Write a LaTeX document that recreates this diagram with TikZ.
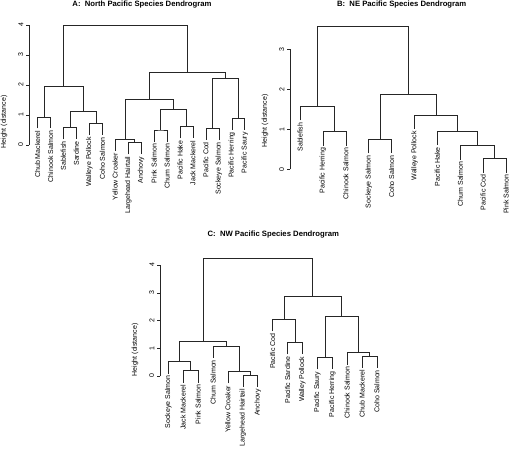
\documentclass[tikz,border=0pt]{standalone}
\usepackage{fontspec}
\setmainfont{Liberation Sans}
\usepackage{tikz}
\usetikzlibrary{positioning}
\usepackage{xcolor}
\definecolor{Ink}{HTML}{262626}

\begin{document}
\begin{tikzpicture}[x=1pt,y=1pt,
    dend/.style={draw=Ink,line width=0.5pt},
    axln/.style={draw=Ink,line width=0.5pt},
    leaflab/.style={rotate=90,anchor=east,inner sep=2pt,font=\fontsize{7}{8}\selectfont},
    ticklab/.style={rotate=90,anchor=south,inner sep=2pt,font=\fontsize{7}{8}\selectfont},
    ylab/.style={rotate=90,inner sep=0pt,font=\fontsize{7}{8}\selectfont},
    ttl/.style={inner sep=0pt,font=\fontsize{7.7}{9}\selectfont\bfseries}]
  \useasboundingbox (0,0) rectangle (510,-449);

  % titles and axis names
  \node[ttl] (ttlA) at (142,-5) {A:\ \ North Pacific Species Dendrogram};
  \node[ttl] (ttlB) at (401.7,-5) {B:\ \ NE Pacific Species Dendrogram};
  \node[ttl] (ttlC) at (273.3,-235) {C:\ \ NW Pacific Species Dendrogram};
  \node[ylab] (ylA) at (4,-122) {Height (distance)};
  \node[ylab] (ylB) at (265,-121) {Height (distance)};
  \node[ylab] (ylC) at (135,-350) {Height (distance)};

  % A: North Pacific
  \begin{scope}[yshift=-145pt,y=30pt]
    \draw[axln] (29,0) -- (29,4);
    \foreach \t in {0,...,4}
      \draw[axln] (29,\t) -- ++(-3.5pt,0) node[ticklab] (ta\t) {\t};
    \foreach \x/\h/\lab [count=\i] in {37.5/0.55/Chub Mackerel,50.5/0.55/Chinook Salmon,
        63.4/0.19/Sablefish,76.4/0.19/Sardine,89.3/0.33/Walleye Pollock,102.3/0.33/Coho Salmon,
        115.2/-0.20/Yellow Croaker,128.2/-0.31/Largehead Hairtail,141.1/-0.31/Anchovy,
        154.1/0.11/Pink Salmon,167.0/0.11/Chum Salmon,180.0/0.22/Pacific Hake,
        192.9/0.22/Jack Mackerel,205.9/0.17/Pacific Cod,218.8/0.17/Sockeye Salmon,
        231.8/0.50/Pacific Herring,244.7/0.50/Pacific Saury}
      \node[leaflab] (a\i) at (\x,\h) {\lab};
    \coordinate (ma1) at (44.0,0.94);
    \coordinate (ma2) at (69.9,0.58);
    \coordinate (ma3) at (95.8,0.72);
    \coordinate (ma4) at (82.85,1.11);
    \coordinate (ma5) at (63.4,1.97);
    \coordinate (ma6) at (134.65,0.08);
    \coordinate (ma7) at (124.9,0.19);
    \coordinate (ma8) at (160.55,0.50);
    \coordinate (ma9) at (186.45,0.61);
    \coordinate (ma10) at (173.5,1.19);
    \coordinate (ma11) at (149.2,1.52);
    \coordinate (ma12) at (212.35,0.56);
    \coordinate (ma13) at (238.25,0.89);
    \coordinate (ma14) at (225.3,2.24);
    \coordinate (ma15) at (187.25,2.44);
    \coordinate (ma16) at (125.3,3.98);
    \foreach \l/\m/\r in {a1.east/ma1/a2.east,a3.east/ma2/a4.east,a5.east/ma3/a6.east,
        ma2/ma4/ma3,ma1/ma5/ma4,a8.east/ma6/a9.east,a7.east/ma7/ma6,
        a10.east/ma8/a11.east,a12.east/ma9/a13.east,ma8/ma10/ma9,ma7/ma11/ma10,
        a14.east/ma12/a15.east,a16.east/ma13/a17.east,ma12/ma14/ma13,
        ma11/ma15/ma14,ma5/ma16/ma15}
      \draw[dend] (\l) |- (\m) -| (\r);
  \end{scope}

  % B: NE Pacific
  \begin{scope}[yshift=-169.3pt,y=40pt]
    \draw[axln] (290,0) -- (290,3);
    \foreach \t in {0,...,3}
      \draw[axln] (290,\t) -- ++(-3.5pt,0) node[ticklab] (tb\t) {\t};
    \foreach \x/\h/\lab [count=\i] in {300.0/1.22/Sablefish,322.9/0.59/Pacific Herring,
        345.8/0.59/Chinook Salmon,368.7/0.40/Sockeye Salmon,391.6/0.40/Coho Salmon,
        414.5/1.01/Walleye Pollock,437.4/0.61/Pacific Hake,460.3/0.24/Chum Salmon,
        483.2/-0.08/Pacific Cod,506.1/-0.08/Pink Salmon}
      \node[leaflab] (b\i) at (\x,\h) {\lab};
    \coordinate (mb1) at (334.35,0.94);
    \coordinate (mb2) at (317.2,1.57);
    \coordinate (mb3) at (380.15,0.75);
    \coordinate (mb4) at (494.65,0.27);
    \coordinate (mb5) at (477.5,0.59);
    \coordinate (mb6) at (457.4,0.96);
    \coordinate (mb7) at (436.0,1.36);
    \coordinate (mb8) at (408.1,1.87);
    \coordinate (mb9) at (362.6,3.58);
    \foreach \l/\m/\r in {b2.east/mb1/b3.east,b1.east/mb2/mb1,b4.east/mb3/b5.east,
        b9.east/mb4/b10.east,b8.east/mb5/mb4,b7.east/mb6/mb5,b6.east/mb7/mb6,
        mb3/mb8/mb7,mb2/mb9/mb8}
      \draw[dend] (\l) |- (\m) -| (\r);
  \end{scope}

  % C: NW Pacific
  \begin{scope}[yshift=-376pt,y=27.75pt]
    \draw[axln] (160,0) -- (160,4);
    \foreach \t in {0,...,4}
      \draw[axln] (160,\t) -- ++(-3.5pt,0) node[ticklab] (tc\t) {\t};
    \foreach \x/\h/\lab [count=\i] in {168.3/0.09/Sockeye Salmon,183.2/-0.24/Jack Mackerel,
        198.1/-0.24/Pink Salmon,213.0/0.65/Chum Salmon,227.9/-0.27/Yellow Croaker,
        242.8/-0.39/Largehead Hairtail,257.7/-0.39/Anchovy,272.6/1.61/Pacific Cod,
        287.5/0.78/Pacific Sardine,302.4/0.78/Walley Pollock,317.3/0.24/Pacific Saury,
        332.2/0.24/Pacific Herring,347.1/0.41/Chinook Salmon,362.0/0.29/Chub Mackerel,
        376.9/0.29/Coho Salmon}
      \node[leaflab] (c\i) at (\x,\h) {\lab};
    \coordinate (mc1) at (190.65,0.19);
    \coordinate (mc2) at (179.5,0.52);
    \coordinate (mc3) at (250.25,0.04);
    \coordinate (mc4) at (239.1,0.16);
    \coordinate (mc5) at (226.05,1.08);
    \coordinate (mc6) at (202.8,1.24);
    \coordinate (mc7) at (294.95,1.21);
    \coordinate (mc8) at (283.8,2.04);
    \coordinate (mc9) at (324.75,0.67);
    \coordinate (mc10) at (369.45,0.72);
    \coordinate (mc11) at (358.3,0.84);
    \coordinate (mc12) at (341.5,2.16);
    \coordinate (mc13) at (312.65,2.88);
    \coordinate (mc14) at (257.7,4.26);
    \foreach \l/\m/\r in {c2.east/mc1/c3.east,c1.east/mc2/mc1,c6.east/mc3/c7.east,
        c5.east/mc4/mc3,c4.east/mc5/mc4,mc2/mc6/mc5,c9.east/mc7/c10.east,
        c8.east/mc8/mc7,c11.east/mc9/c12.east,c14.east/mc10/c15.east,
        c13.east/mc11/mc10,mc9/mc12/mc11,mc8/mc13/mc12,mc6/mc14/mc13}
      \draw[dend] (\l) |- (\m) -| (\r);
  \end{scope}
\end{tikzpicture}
\end{document}
